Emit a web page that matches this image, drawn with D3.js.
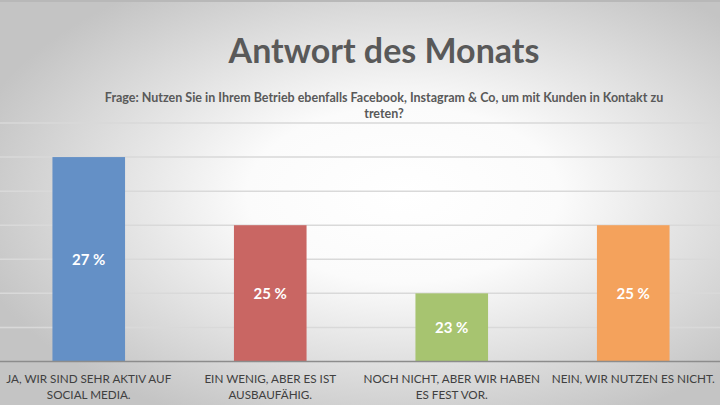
<!DOCTYPE html>
<meta charset="utf-8">
<style>
    html, body { margin: 0; padding: 0; }
    body { width: 720px; height: 405px; overflow: hidden; }
    text { font-family: Lato, "Open Sans", sans-serif; }
</style>
<script src="https://d3js.org/d3.v7.min.js"></script>
<body>
<div id="chart"></div>
<script>
    // data
    var categories = [
        "JA, WIR SIND SEHR AKTIV AUF\nSOCIAL MEDIA.",
        "EIN WENIG, ABER ES IST\nAUSBAUFÄHIG.",
        "NOCH NICHT, ABER WIR HABEN\nES FEST VOR.",
        "NEIN, WIR NUTZEN ES NICHT."
    ];
    var values = [27, 25, 23, 25];
    var colors = ["#6490c6", "#c96663", "#a7c470", "#f4a25c"];
    var yTicks = [21, 22, 23, 24, 25, 26, 27, 28];
    var title = "Antwort des Monats";
    var subtitle = ["Frage: Nutzen Sie in Ihrem Betrieb ebenfalls Facebook, Instagram & Co, um mit Kunden in Kontakt zu", "treten?"];

    var width = 720, height = 405;

    var svg = d3.select("#chart").append("svg")
        .attr("width", width)
        .attr("height", height);

    // slide background
    var grad = svg.append("defs").append("radialGradient")
        .attr("id", "bg")
        .attr("cx", "0.56").attr("cy", "0.48")
        .attr("r", "0.62");
    grad.append("stop").attr("offset", "0").attr("stop-color", "#ffffff");
    grad.append("stop").attr("offset", "0.35").attr("stop-color", "#fbfbfb");
    grad.append("stop").attr("offset", "1").attr("stop-color", "#c4c4c4");

    svg.append("rect")
        .attr("width", width).attr("height", height)
        .attr("fill", "url(#bg)");
    svg.append("rect")
        .attr("width", width).attr("height", 2)
        .attr("fill", "#b8b8b8");

    var x = d3.scaleBand()
        .domain(categories)
        .range([-2, 724])
        .paddingInner(0.6)
        .paddingOuter(0.3);

    var y = d3.scaleLinear()
        .domain([21, 28])
        .range([361.5, 123]);

    // gridlines
    svg.append("g")
        .selectAll("line")
        .data(yTicks.slice(1))
        .join("line")
        .attr("x1", 0).attr("x2", width)
        .attr("y1", function(d){ return y(d); })
        .attr("y2", function(d){ return y(d); })
        .attr("stroke", "#d9d9d9")
        .attr("stroke-width", 1.5);

    // bars
    svg.append("g")
        .selectAll("rect")
        .data(values)
        .join("rect")
        .attr("x", function(d, i){ return x(categories[i]); })
        .attr("y", function(d){ return y(d); })
        .attr("width", x.bandwidth())
        .attr("height", function(d){ return y(21) - y(d); })
        .attr("fill", function(d, i){ return colors[i]; });

    // value labels
    svg.append("g")
        .selectAll("text")
        .data(values)
        .join("text")
        .attr("x", function(d, i){ return x(categories[i]) + x.bandwidth()/2; })
        .attr("y", function(d){ return (y(d) + y(21))/2 + 5.5; })
        .attr("text-anchor", "middle")
        .attr("fill", "#ffffff")
        .attr("font-weight", "bold")
        .attr("font-size", "15px")
        .text(function(d){ return d + " %"; });

    // baseline
    svg.append("line")
        .attr("x1", 0).attr("x2", width)
        .attr("y1", y(21)).attr("y2", y(21))
        .attr("stroke", "#8c8c8c")
        .attr("stroke-width", 1.5);

    // category labels
    var cat = svg.append("g")
        .selectAll("text")
        .data(categories)
        .join("text")
        .attr("x", function(d){ return x(d) + x.bandwidth()/2; })
        .attr("y", 383)
        .attr("text-anchor", "middle")
        .attr("fill", "#404040")
        .attr("font-size", "11.7px");
    cat.selectAll("tspan")
        .data(function(d){ return d.split("\n"); })
        .join("tspan")
        .attr("x", function(){ var p = this.parentNode.__data__; return x(p) + x.bandwidth()/2; })
        .attr("dy", function(d, i){ return i == 0 ? 0 : 16; })
        .text(function(d){ return d; });

    // titles
    svg.append("text")
        .attr("x", 384).attr("y", 63)
        .attr("text-anchor", "middle")
        .attr("fill", "#595959")
        .attr("font-weight", "bold")
        .attr("font-size", "34px")
        .text(title);

    svg.append("g")
        .selectAll("text")
        .data(subtitle)
        .join("text")
        .attr("x", 384)
        .attr("y", function(d, i){ return 102 + i*15.5; })
        .attr("text-anchor", "middle")
        .attr("fill", "#595959")
        .attr("font-weight", "bold")
        .attr("font-size", "12.5px")
        .text(function(d){ return d; });
</script>
</body>
